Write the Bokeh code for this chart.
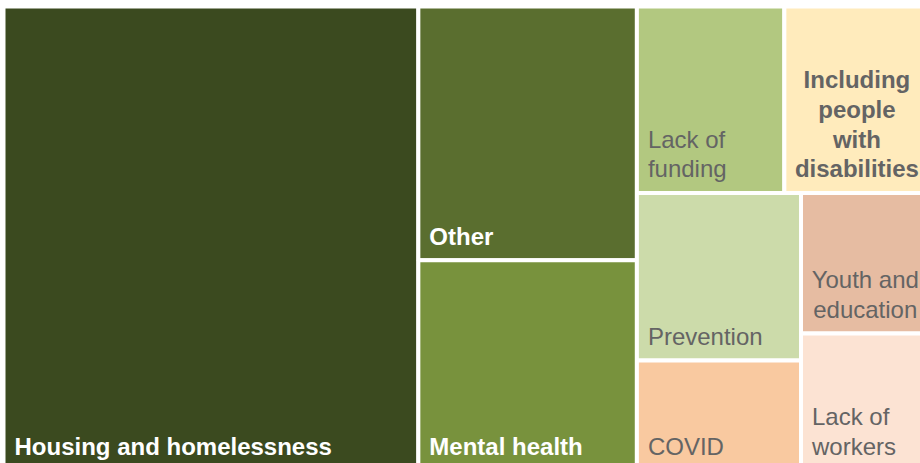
from bokeh.plotting import figure
from bokeh.models import Range1d, ColumnDataSource
from bokeh.embed import file_html
from bokeh.resources import INLINE
from bokeh.core.properties import value

# ---- data ----
names = ["Housing and homelessness", "Other", "Mental health", "Lack of funding",
         "Including people with disabilities", "Prevention", "COVID",
         "Youth and education", "Lack of workers"]
labels = ["Housing and homelessness", "Other", "Mental health", "Lack of\nfunding",
          "Including\npeople\nwith\ndisabilities", "Prevention", "COVID",
          "Youth and\neducation", "Lack of\nworkers"]
shares = [44.8, 12.9, 10.7, 6.4, 6.3, 6.4, 4.2, 4.2, 4.1]
colors = ["#3B4A1F", "#5A6E2F", "#78923D", "#B2C880", "#FFEBBC",
          "#CCDBAA", "#F9C9A0", "#E6BCA2", "#FCE3D3"]

# ---- styles ----
text_colors = ["white", "white", "white", "#646464", "#646464",
               "#646464", "#646464", "#646464", "#646464"]
text_styles = ["bold", "bold", "bold", "normal", "bold",
               "normal", "normal", "normal", "normal"]
text_aligns = ["left", "left", "left", "left", "center",
               "left", "left", "center", "left"]

# treemap structure (indices into the arrays above)
tree = ("h", [0, ("v", [1, 2]),
              ("v", [("h", [3, 4]),
                     ("h", [("v", [5, 6]), ("v", [7, 8])])])])

W, H = 926.0, 464.0


def total(node):
    if isinstance(node, int):
        return shares[node]
    return sum(total(k) for k in node[1])


def layout(node, x0, y0, x1, y1, out):
    if isinstance(node, int):
        out[node] = (x0, y0, x1, y1)
        return
    d, kids = node
    t = total(node)
    if d == "h":
        pos = x0
        for k in kids:
            w = (x1 - x0) * total(k) / t
            layout(k, pos, y0, pos + w, y1, out)
            pos += w
    else:
        pos = y1  # top, going down
        for k in kids:
            h = (y1 - y0) * total(k) / t
            layout(k, x0, pos - h, x1, pos, out)
            pos -= h


rects = {}
layout(tree, 0.0, 0.0, W, H, rects)

left = [rects[i][0] for i in range(len(names))]
bottom = [rects[i][1] for i in range(len(names))]
right = [rects[i][2] for i in range(len(names))]
top = [rects[i][3] for i in range(len(names))]

p = figure(width=920, height=463, output_backend="svg", toolbar_location=None,
           x_range=Range1d(-3, 917), y_range=Range1d(7, 470),
           min_border=0, border_fill_color="white", background_fill_color="white")
p.xaxis.visible = False
p.yaxis.visible = False
p.grid.visible = False
p.outline_line_color = None

src = ColumnDataSource(dict(left=left, right=right, top=top, bottom=bottom,
                            color=colors, name=names))
p.quad(left="left", right="right", top="top", bottom="bottom", source=src,
       fill_color="color", line_color="white", line_width=4)

for i in range(len(names)):
    if text_aligns[i] == "left":
        tx = left[i]
        xo = 11
    else:
        tx = (left[i] + right[i]) / 2
        xo = 0
    s = ColumnDataSource(dict(x=[tx], y=[bottom[i]], t=[labels[i]]))
    p.text(x="x", y="y", text="t", source=s, x_offset=xo, y_offset=-10.5,
           text_align=text_aligns[i], text_baseline="bottom",
           text_font=value("Liberation Sans"), text_font_size="24px",
           text_font_style=text_styles[i], text_color=text_colors[i],
           text_line_height=1.1)

open("out.html", "w").write(file_html(p, INLINE))
